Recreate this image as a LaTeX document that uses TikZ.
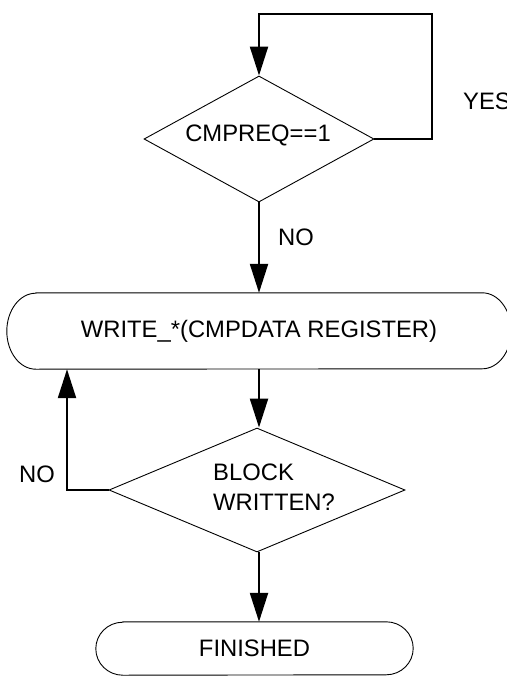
\documentclass[tikz,border=0pt]{standalone}
\usepackage{fontspec}
\setmainfont{Liberation Sans}
\usetikzlibrary{shapes.geometric,arrows.meta}
\begin{document}
\begin{tikzpicture}[x=1pt,y=-1pt,
  lbl/.style={font=\fontsize{23.8}{30.5}\selectfont, inner sep=0pt},
  conn/.style={line width=2.2pt},
  arr/.style={conn,-{Triangle[length=29pt,width=18pt]}},
  decision/.style={draw,diamond,line width=0.9pt,inner sep=0pt},
  terminal/.style={rectangle,draw=none,inner sep=0pt,font=\fontsize{23.8}{30.5}\selectfont},
  outline/.style={line width=0.9pt}]
\useasboundingbox (0,0) rectangle (506,676);

% decision 1
\node[decision,minimum width=230pt,minimum height=126pt] (d1) at (259,139) {};
\node[lbl] (t1) at (258,135) {CMPREQ==1};
\node[lbl,anchor=west] (yes) at (463,101) {YES};

% terminal 1
\node[terminal,minimum width=504pt,minimum height=76pt] (b1) at (259,331) {WRITE\_*(CMPDATA REGISTER)};
\draw[outline] ([xshift=29pt]b1.north west) -- ([xshift=-29pt]b1.north east)
  arc[start angle=90,end angle=-90,x radius=29pt,y radius=38pt]
  -- ([xshift=29pt]b1.south west)
  arc[start angle=270,end angle=90,x radius=29pt,y radius=38pt] -- cycle;

% decision 2
\node[decision,minimum width=296pt,minimum height=124pt] (d2) at (257,490) {};
\node[lbl,anchor=west,align=left] (t2) at (213,487) {BLOCK\\WRITTEN?};

% terminal 2
\node[terminal,minimum width=317pt,minimum height=53pt] (b2) at (254.5,648.5) {FINISHED};
\draw[outline] ([xshift=27pt]b2.north west) -- ([xshift=-27pt]b2.north east)
  arc[start angle=90,end angle=-90,x radius=27pt,y radius=26.5pt]
  -- ([xshift=27pt]b2.south west)
  arc[start angle=270,end angle=90,x radius=27pt,y radius=26.5pt] -- cycle;

% labels
\node[lbl] (no1) at (296,237) {NO};
\node[lbl] (no2) at (37,474) {NO};

% connectors
\coordinate (loop) at (432,14);
\coordinate (nl) at (67,0);
\draw[arr] (d1.east) -| (loop) -| (d1.north);
\draw[arr] (d1.south) -- (d1.south |- b1.north);
\draw[arr] (d1.south |- b1.south) -- (d1.south |- d2.north);
\draw[arr] (d2.west) -- (d2.west -| nl) -- (nl |- b1.south);
\draw[arr] (d1.south |- d2.south) -- (d1.south |- b2.north);
\end{tikzpicture}
\end{document}
